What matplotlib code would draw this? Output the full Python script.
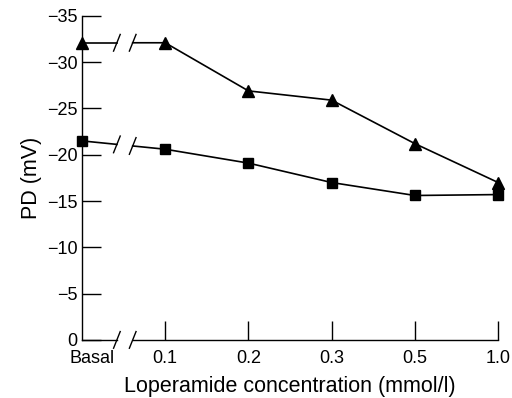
import matplotlib
matplotlib.use("Agg")
import matplotlib.pyplot as plt
import numpy as np

categories = ["Basal", "0.1", "0.2", "0.3", "0.5", "1.0"]
triangle_vals = [-32.1, -32.1, -26.9, -25.9, -21.2, -17.0]
square_vals = [-21.5, -20.6, -19.1, -17.0, -15.6, -15.7]
yticks = [0, -5, -10, -15, -20, -25, -30, -35]

plt.rcParams['font.family'] = ['Liberation Sans', 'DejaVu Sans']

fig = plt.figure(figsize=(5.12, 3.98), dpi=100)
ax = fig.add_axes([0.160, 0.146, 0.813, 0.814])

x = np.arange(len(categories))
b0, b1 = 0.42, 0.61  # break region between Basal and 0.1

def draw_series(vals, marker, ms):
    v = np.array(vals, dtype=float)
    ya = v[0] + (v[1] - v[0]) * b0
    yb = v[0] + (v[1] - v[0]) * b1
    ax.plot([x[0], b0], [v[0], ya], color='black', lw=1.2, clip_on=False)
    ax.plot(np.r_[b1, x[1:]], np.r_[yb, v[1:]], color='black', lw=1.2, clip_on=False)
    ax.plot(x, v, linestyle='none', marker=marker, color='black', ms=ms, clip_on=False, zorder=5)
    for bx, by in [(b0, ya), (b1, yb)]:
        ax.plot([bx - 0.04, bx + 0.04], [by + 0.9, by - 0.9], color='black', lw=1.0, clip_on=False)

draw_series(triangle_vals, '^', 8.5)
draw_series(square_vals, 's', 7.5)

ax.set_xlim(0, len(categories) - 1)
ax.set_ylim(0, -35)

ax.spines['top'].set_visible(False)
ax.spines['right'].set_visible(False)
ax.spines['bottom'].set_visible(False)
ax.spines['left'].set_linewidth(1.0)

# bottom axis with break
ax.plot([0, b0], [0, 0], color='black', lw=1.0, clip_on=False)
ax.plot([b1, len(categories) - 1], [0, 0], color='black', lw=1.0, clip_on=False)
for bx in (b0, b1):
    ax.plot([bx - 0.04, bx + 0.04], [0.9, -0.9], color='black', lw=1.0, clip_on=False)

ax.set_yticks(yticks)
ax.set_yticklabels([f"\u2212{abs(t)}" if t != 0 else "0" for t in yticks])
ax.tick_params(axis='y', direction='in', length=14, width=1.0, labelsize=13, pad=3)

ax.set_xticks(x[1:])
ax.set_xticklabels(categories[1:])
ax.tick_params(axis='x', direction='in', length=14, width=1.0, labelsize=13, pad=7)
ax.annotate(categories[0], xy=(0.12, 0), xycoords=ax.get_xaxis_transform(),
            xytext=(0, -7), textcoords='offset points',
            ha='center', va='top', fontsize=13)

ax.set_xlabel("Loperamide concentration (mmol/l)", fontsize=15.5, labelpad=7)
ax.set_ylabel("PD (mV)", fontsize=15.5, labelpad=4)

fig.savefig("out.png", dpi=100)
